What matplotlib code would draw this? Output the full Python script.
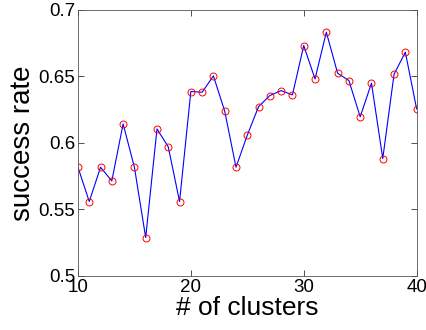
import matplotlib
matplotlib.use("Agg")
import matplotlib.pyplot as plt

plt.rcParams["font.family"] = ["Liberation Sans", "DejaVu Sans"]

# data
clusters = list(range(10, 41))
success_rate = [
    0.5817, 0.5559, 0.5817, 0.5714, 0.6143, 0.5817, 0.5288, 0.6105, 0.5970, 0.5559,
    0.6386, 0.6381, 0.6504, 0.6238, 0.5817, 0.6058, 0.6273, 0.6356, 0.6393, 0.6361,
    0.6732, 0.6481, 0.6832, 0.6524, 0.6469, 0.6196, 0.6449, 0.5882, 0.6516, 0.6682,
    0.6256,
]
xticks = [10, 20, 30, 40]
yticks = [0.5, 0.55, 0.6, 0.65, 0.7]
ytick_labels = ["0.5", "0.55", "0.6", "0.65", "0.7"]

fig = plt.figure(figsize=(4.26, 3.30), dpi=100)
ax = fig.add_axes([0.183, 0.164, 0.795, 0.806])

ax.plot(clusters, success_rate, "-", color="#0000ff", linewidth=0.8)
ax.plot(clusters, success_rate, "o", markerfacecolor="none",
        markeredgecolor="#ff0000", markersize=5, markeredgewidth=0.7)

ax.set_xlim(10, 40)
ax.set_ylim(0.5, 0.7)
ax.set_xticks(xticks)
ax.set_yticks(yticks)
ax.set_yticklabels(ytick_labels)
ax.tick_params(direction="in", length=4, width=0.6, top=True, right=True,
               labelsize=13.5, pad=2, colors="#333333", labelcolor="black")
for s in ax.spines.values():
    s.set_linewidth(0.6)
    s.set_color("#555555")

ax.set_xlabel("# of clusters", fontsize=19, labelpad=0)
ax.set_ylabel("success rate", fontsize=20, labelpad=2)

fig.savefig("out.png", dpi=100)
